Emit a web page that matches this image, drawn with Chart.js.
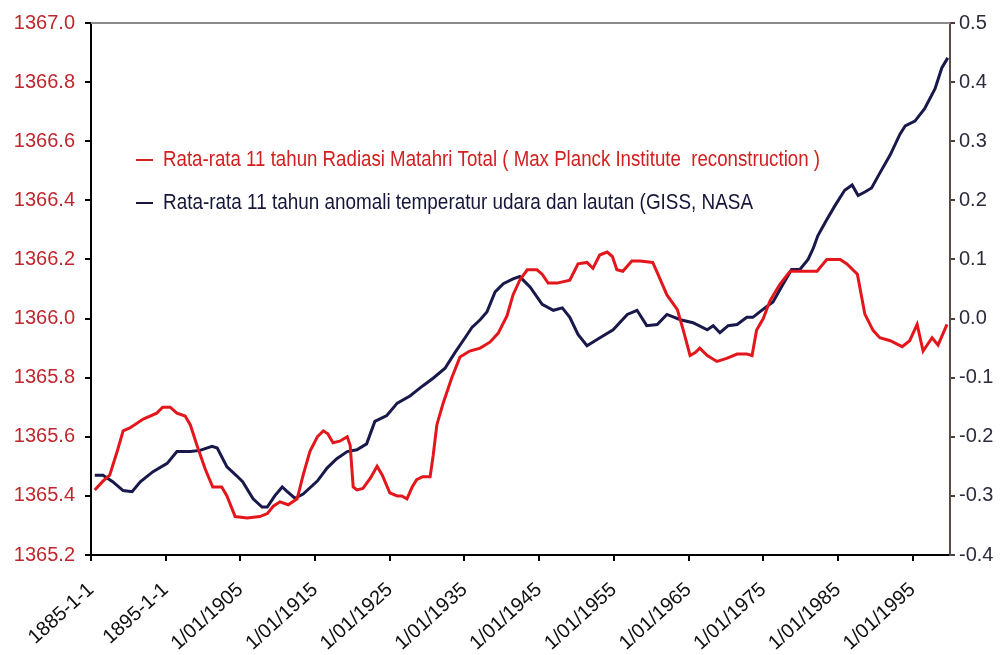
<!DOCTYPE html>
<html>
<head>
<meta charset="utf-8">
<script src="https://cdn.jsdelivr.net/npm/chart.js@4.4.1/dist/chart.umd.min.js"></script>
<style>
  html, body { margin: 0; padding: 0; background: #fff; }
  #wrap { width: 1005px; height: 655px; }
</style>
</head>
<body>
<div id="wrap"><canvas id="solarChart" width="1005" height="655"></canvas></div>
<script>
// 11-year running means (decimal year -> value)
const solarYears = [
  1885.5, 1886.6, 1887.5, 1888.5, 1889.3, 1890.2, 1892.0, 1893.8, 1894.6, 1895.6,
  1896.5, 1897.6, 1898.3, 1899.2, 1900.3, 1901.3, 1902.5, 1903.2, 1904.3, 1905.9,
  1907.6, 1908.6, 1909.4, 1910.3, 1911.4, 1912.6, 1913.4, 1914.3, 1915.3, 1916.1,
  1916.7, 1917.4, 1918.3, 1919.3, 1919.7, 1920.1, 1920.6, 1921.4, 1922.4, 1923.3,
  1924.0, 1925.0, 1926.0, 1926.6, 1927.3, 1928.0, 1928.6, 1929.4, 1930.4, 1930.8,
  1931.3, 1932.1, 1933.3, 1934.4, 1935.7, 1937.1, 1938.4, 1939.5, 1940.7, 1941.5,
  1942.4, 1943.4, 1944.7, 1945.4, 1946.2, 1947.4, 1949.1, 1949.5, 1950.2, 1951.4,
  1952.2, 1953.1, 1954.1, 1954.8, 1955.4, 1956.2, 1957.4, 1958.5, 1960.2, 1960.9,
  1962.1, 1963.5, 1964.3, 1965.2, 1965.9, 1966.5, 1967.5, 1968.8, 1970.1, 1971.5,
  1972.8, 1973.5, 1974.1, 1975.0, 1975.9, 1977.2, 1978.6, 1979.9, 1982.2, 1983.5,
  1985.3, 1986.2, 1987.6, 1988.6, 1989.7, 1990.6, 1992.0, 1993.6, 1994.6, 1995.6,
  1996.4, 1997.6, 1998.4, 1999.6
];
const solarTSI = [
  1365.42, 1365.45, 1365.47, 1365.55, 1365.62, 1365.63, 1365.66, 1365.68, 1365.70, 1365.70,
  1365.68, 1365.67, 1365.64, 1365.57, 1365.49, 1365.43, 1365.43, 1365.40, 1365.33, 1365.325,
  1365.33, 1365.34, 1365.365, 1365.38, 1365.37, 1365.39, 1365.47, 1365.55, 1365.60, 1365.62,
  1365.61, 1365.58, 1365.585, 1365.60, 1365.57, 1365.43, 1365.42, 1365.425, 1365.46, 1365.50,
  1365.47, 1365.41, 1365.40, 1365.40, 1365.39, 1365.43, 1365.455, 1365.465, 1365.465, 1365.535,
  1365.64, 1365.71, 1365.80, 1365.87, 1365.89, 1365.90, 1365.92, 1365.95, 1366.01, 1366.08,
  1366.13, 1366.165, 1366.165, 1366.15, 1366.12, 1366.12, 1366.13, 1366.15, 1366.185, 1366.19,
  1366.17, 1366.215, 1366.225, 1366.21, 1366.165, 1366.16, 1366.195, 1366.195, 1366.19, 1366.15,
  1366.08, 1366.03, 1365.96, 1365.875, 1365.885, 1365.90, 1365.875, 1365.855, 1365.865, 1365.88,
  1365.88, 1365.875, 1365.96, 1366.00, 1366.06, 1366.115, 1366.16, 1366.16, 1366.16, 1366.20,
  1366.20, 1366.185, 1366.15, 1366.015, 1365.96, 1365.935, 1365.925, 1365.905, 1365.925, 1365.98,
  1365.89, 1365.935, 1365.91, 1365.98
];

const tempYears = [
  1885.5, 1886.6, 1887.9, 1889.3, 1890.5, 1891.6, 1893.3, 1895.2, 1896.5, 1898.3,
  1899.6, 1901.2, 1901.9, 1903.2, 1904.5, 1905.3, 1906.7, 1907.9, 1908.6, 1909.6,
  1910.6, 1911.2, 1912.3, 1913.4, 1915.3, 1916.6, 1917.9, 1919.3, 1920.6, 1921.9,
  1923.0, 1924.6, 1926.0, 1927.7, 1929.4, 1930.8, 1932.4, 1933.7, 1935.1, 1936.0,
  1937.1, 1938.0, 1939.1, 1940.2, 1941.5, 1942.4, 1943.8, 1945.4, 1946.9, 1948.1,
  1949.1, 1950.2, 1951.4, 1952.7, 1954.9, 1956.8, 1958.1, 1959.4, 1960.8, 1962.1,
  1963.9, 1965.6, 1967.5, 1968.3, 1969.2, 1970.3, 1971.5, 1972.8, 1973.6, 1975.0,
  1976.3, 1977.6, 1978.8, 1979.9, 1981.0, 1981.7, 1982.3, 1983.4, 1984.6, 1985.9,
  1986.9, 1987.7, 1988.6, 1989.5, 1990.6, 1992.0, 1993.3, 1994.0, 1995.3, 1996.6,
  1998.0, 1998.9, 1999.7
];
const tempAnomaly = [
  -0.265, -0.265, -0.276, -0.291, -0.293, -0.276, -0.259, -0.245, -0.225, -0.225,
  -0.223, -0.216, -0.219, -0.251, -0.266, -0.276, -0.305, -0.319, -0.319, -0.300,
  -0.285, -0.292, -0.304, -0.297, -0.275, -0.253, -0.237, -0.225, -0.222, -0.212,
  -0.174, -0.164, -0.143, -0.131, -0.114, -0.101, -0.084, -0.058, -0.032, -0.015,
  -0.002, 0.011, 0.045, 0.059, 0.067, 0.071, 0.053, 0.024, 0.014, 0.018,
  0.002, -0.027, -0.046, -0.036, -0.019, 0.007, 0.014, -0.012, -0.010, 0.007,
  -0.002, -0.007, -0.019, -0.012, -0.024, -0.012, -0.010, 0.002, 0.002, 0.016,
  0.028, 0.057, 0.083, 0.083, 0.100, 0.119, 0.140, 0.165, 0.191, 0.217,
  0.226, 0.208, 0.214, 0.221, 0.246, 0.277, 0.312, 0.326, 0.334, 0.355,
  0.389, 0.424, 0.441
];

const tickYears = [1885, 1895, 1905, 1915, 1925, 1935, 1945, 1955, 1965, 1975, 1985, 1995];
const tickLabels = [
  '1885-1-1', '1895-1-1', '1/01/1905', '1/01/1915', '1/01/1925', '1/01/1935',
  '1/01/1945', '1/01/1955', '1/01/1965', '1/01/1975', '1/01/1985', '1/01/1995'
];

const seriesNames = [
  'Rata-rata 11 tahun Radiasi Matahri Total ( Max Planck Institute  reconstruction )',
  'Rata-rata 11 tahun anomali temperatur udara dan lautan (GISS, NASA'
];

const redLine = '#e3161c';
const navyLine = '#18194a';
const axisFont = { family: '"Liberation Sans", Arial, sans-serif', size: 20 };

// legend drawn inside the plot, plus the top border of the plot frame
const insideLegend = {
    id: 'insideLegend',
    afterDraw(chart) {
        const ctx = chart.ctx;
        const area = chart.chartArea;
        ctx.save();
        ctx.strokeStyle = '#8a8a8a';
        ctx.lineWidth = 2;
        ctx.beginPath();
        ctx.moveTo(area.left, area.top);
        ctx.lineTo(area.right, area.top);
        ctx.stroke();

        // the original legend uses a narrow face; fillText's maxWidth squeezes it
        const rows = [
            { text: seriesNames[0], color: '#d0201f', y: area.top + 137, maxW: 657 },
            { text: seriesNames[1], color: '#15163a', y: area.top + 180, maxW: 590 }
        ];
        ctx.font = '22px "Liberation Sans Narrow", "Liberation Sans", Arial, sans-serif';
        ctx.textBaseline = 'middle';
        rows.forEach(r => {
            ctx.strokeStyle = r.color;
            ctx.lineWidth = 2;
            ctx.beginPath();
            ctx.moveTo(area.left + 45, r.y);
            ctx.lineTo(area.left + 62, r.y);
            ctx.stroke();
            ctx.fillStyle = r.color;
            ctx.fillText(r.text, area.left + 72, r.y, r.maxW);
        });
        ctx.restore();
    }
};

const ctx = document.getElementById('solarChart').getContext('2d');
const chart = new Chart(ctx, {
    type: 'line',
    data: {
        datasets: [
            {
                label: seriesNames[0],
                data: solarYears.map((yr, i) => ({ x: yr, y: solarTSI[i] })),
                borderColor: redLine,
                borderWidth: 3,
                pointRadius: 0,
                tension: 0,
                yAxisID: 'y'
            },
            {
                label: seriesNames[1],
                data: tempYears.map((yr, i) => ({ x: yr, y: tempAnomaly[i] })),
                borderColor: navyLine,
                borderWidth: 3,
                pointRadius: 0,
                tension: 0,
                yAxisID: 'y1'
            }
        ]
    },
    options: {
        responsive: false,
        animation: false,
        layout: { padding: { top: 23, left: 0, right: 0, bottom: 0 } },
        plugins: {
            legend: { display: false },
            tooltip: { enabled: false }
        },
        scales: {
            x: {
                type: 'linear',
                min: 1885,
                max: 2000,
                afterBuildTicks: axis => { axis.ticks = tickYears.map(v => ({ value: v })); },
                afterFit: scale => { scale.height = 100; },
                grid: { drawOnChartArea: false, color: '#000', tickLength: 6, lineWidth: 2 },
                border: { color: '#000', width: 2 },
                ticks: {
                    autoSkip: false,
                    minRotation: 42,
                    maxRotation: 42,
                    padding: 17,
                    color: '#111',
                    font: axisFont,
                    callback: value => {
                        const i = tickYears.indexOf(value);
                        return i >= 0 ? tickLabels[i] : '';
                    }
                }
            },
            y: {
                position: 'left',
                min: 1365.2,
                max: 1367.0,
                afterFit: scale => { scale.width = 91; },
                grid: { drawOnChartArea: false, color: '#000', tickLength: 6, lineWidth: 2 },
                border: { color: '#000', width: 2 },
                ticks: {
                    stepSize: 0.2,
                    padding: 10,
                    color: '#c0262e',
                    font: axisFont,
                    callback: v => Number(v).toFixed(1)
                }
            },
            y1: {
                position: 'right',
                min: -0.4,
                max: 0.5,
                afterFit: scale => { scale.width = 55; },
                grid: { drawOnChartArea: false, color: '#4a3f3a', tickLength: 5, lineWidth: 2 },
                border: { color: '#5b4b45', width: 2 },
                ticks: {
                    stepSize: 0.1,
                    padding: 4,
                    color: '#2b2b3b',
                    font: axisFont,
                    callback: v => Number(v).toFixed(1)
                }
            }
        }
    },
    plugins: [insideLegend]
});
</script>
</body>
</html>
